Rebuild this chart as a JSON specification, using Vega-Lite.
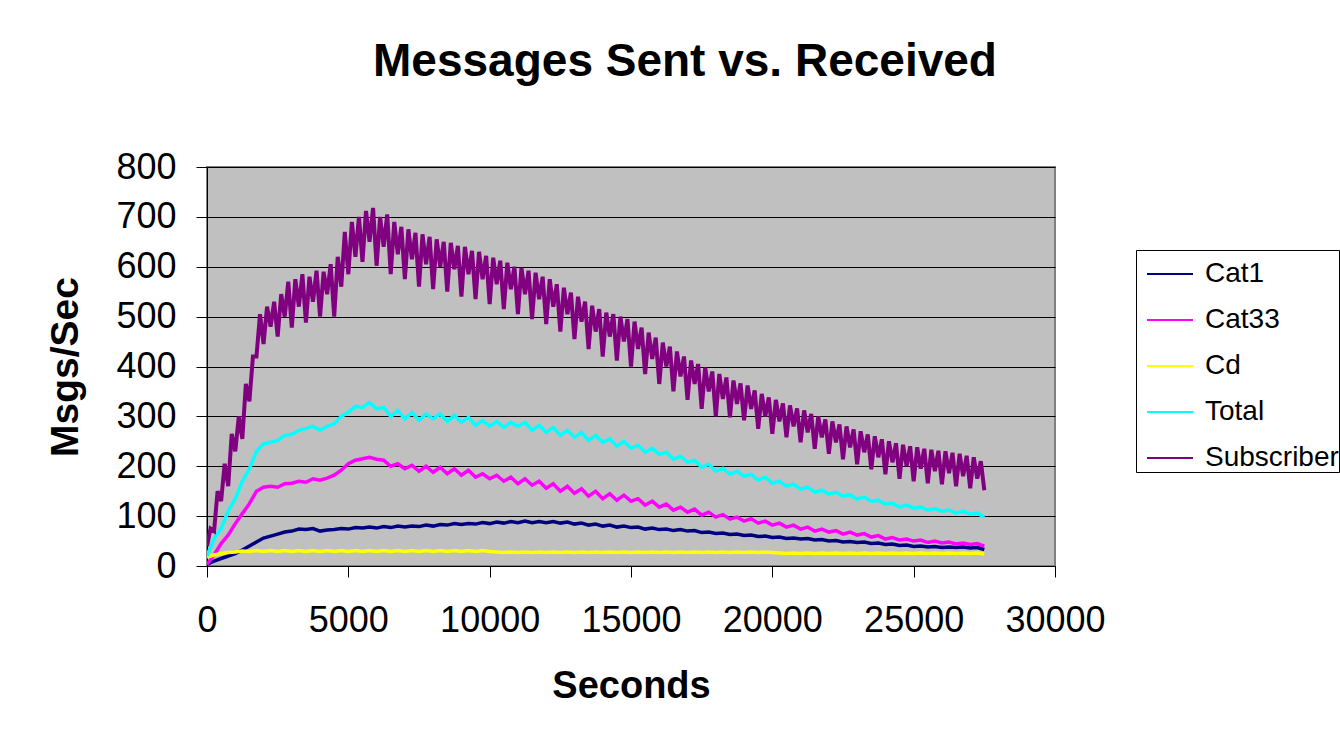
{
  "$schema": "https://vega.github.io/schema/vega-lite/v6.json",
  "width": 848,
  "height": 399,
  "autosize": {"type": "none"},
  "padding": {"left": 207, "top": 167, "right": 285, "bottom": 169},
  "background": "white",
  "title": {"text": "Messages Sent vs. Received", "fontSize": 46, "fontWeight": "bold", "font": "Liberation Sans", "color": "black", "anchor": "middle", "frame": "group", "offset": 63, "dx": 54},
  "datasets": {
    "main": [
      {"t":0,"Cat1":3,"Cat33":3,"Cd":18,"Total":20},
      {"t":250,"Cat1":10,"Cat33":22,"Cd":22,"Total":55},
      {"t":500,"Cat1":15,"Cat33":45,"Cd":25,"Total":75},
      {"t":750,"Cat1":20,"Cat33":62,"Cd":27,"Total":110},
      {"t":1000,"Cat1":25,"Cat33":85,"Cd":28,"Total":135},
      {"t":1250,"Cat1":32,"Cat33":105,"Cd":30,"Total":170},
      {"t":1500,"Cat1":40,"Cat33":125,"Cd":29,"Total":195},
      {"t":1750,"Cat1":48,"Cat33":150,"Cd":31,"Total":230},
      {"t":2000,"Cat1":56,"Cat33":158,"Cd":29,"Total":245},
      {"t":2250,"Cat1":60,"Cat33":160,"Cd":31,"Total":248},
      {"t":2500,"Cat1":64,"Cat33":158,"Cd":29,"Total":252},
      {"t":2750,"Cat1":68,"Cat33":165,"Cd":31,"Total":262},
      {"t":3000,"Cat1":70,"Cat33":166,"Cd":29,"Total":264},
      {"t":3250,"Cat1":74,"Cat33":170,"Cd":31,"Total":272},
      {"t":3500,"Cat1":73,"Cat33":168,"Cd":29,"Total":276},
      {"t":3750,"Cat1":75,"Cat33":175,"Cd":31,"Total":280},
      {"t":4000,"Cat1":70,"Cat33":172,"Cd":29,"Total":272},
      {"t":4250,"Cat1":72,"Cat33":176,"Cd":31,"Total":280},
      {"t":4500,"Cat1":73,"Cat33":182,"Cd":29,"Total":285},
      {"t":4750,"Cat1":75,"Cat33":192,"Cd":31,"Total":300},
      {"t":5000,"Cat1":74,"Cat33":205,"Cd":29,"Total":308},
      {"t":5250,"Cat1":77,"Cat33":212,"Cd":31,"Total":320},
      {"t":5500,"Cat1":76,"Cat33":215,"Cd":29,"Total":318},
      {"t":5750,"Cat1":78,"Cat33":218,"Cd":31,"Total":328},
      {"t":6000,"Cat1":76,"Cat33":214,"Cd":29,"Total":315},
      {"t":6250,"Cat1":79,"Cat33":212,"Cd":31,"Total":318},
      {"t":6500,"Cat1":77,"Cat33":200,"Cd":29,"Total":300},
      {"t":6750,"Cat1":80,"Cat33":205,"Cd":31,"Total":312},
      {"t":7000,"Cat1":78,"Cat33":195,"Cd":29,"Total":295},
      {"t":7250,"Cat1":80,"Cat33":202,"Cd":31,"Total":308},
      {"t":7500,"Cat1":79,"Cat33":190,"Cd":29,"Total":292},
      {"t":7750,"Cat1":82,"Cat33":200,"Cd":31,"Total":305},
      {"t":8000,"Cat1":80,"Cat33":188,"Cd":29,"Total":295},
      {"t":8250,"Cat1":83,"Cat33":198,"Cd":31,"Total":305},
      {"t":8500,"Cat1":82,"Cat33":185,"Cd":29,"Total":290},
      {"t":8750,"Cat1":85,"Cat33":195,"Cd":31,"Total":302},
      {"t":9000,"Cat1":83,"Cat33":182,"Cd":29,"Total":288},
      {"t":9250,"Cat1":85,"Cat33":192,"Cd":31,"Total":298},
      {"t":9500,"Cat1":84,"Cat33":178,"Cd":29,"Total":282},
      {"t":9750,"Cat1":87,"Cat33":185,"Cd":31,"Total":292},
      {"t":10000,"Cat1":85,"Cat33":175,"Cd":29,"Total":280},
      {"t":10250,"Cat1":88,"Cat33":182,"Cd":28,"Total":290},
      {"t":10500,"Cat1":86,"Cat33":170,"Cd":27,"Total":278},
      {"t":10750,"Cat1":89,"Cat33":178,"Cd":28,"Total":288},
      {"t":11000,"Cat1":87,"Cat33":165,"Cd":27,"Total":280},
      {"t":11250,"Cat1":90,"Cat33":175,"Cd":28,"Total":288},
      {"t":11500,"Cat1":87,"Cat33":162,"Cd":27,"Total":272},
      {"t":11750,"Cat1":89,"Cat33":170,"Cd":28,"Total":282},
      {"t":12000,"Cat1":87,"Cat33":156,"Cd":27,"Total":268},
      {"t":12250,"Cat1":89,"Cat33":165,"Cd":28,"Total":278},
      {"t":12500,"Cat1":86,"Cat33":150,"Cd":27,"Total":262},
      {"t":12750,"Cat1":88,"Cat33":160,"Cd":28,"Total":272},
      {"t":13000,"Cat1":84,"Cat33":146,"Cd":27,"Total":258},
      {"t":13250,"Cat1":86,"Cat33":155,"Cd":28,"Total":268},
      {"t":13500,"Cat1":82,"Cat33":140,"Cd":27,"Total":252},
      {"t":13750,"Cat1":84,"Cat33":150,"Cd":28,"Total":262},
      {"t":14000,"Cat1":80,"Cat33":135,"Cd":27,"Total":248},
      {"t":14250,"Cat1":82,"Cat33":145,"Cd":28,"Total":255},
      {"t":14500,"Cat1":78,"Cat33":132,"Cd":27,"Total":240},
      {"t":14750,"Cat1":80,"Cat33":142,"Cd":28,"Total":250},
      {"t":15000,"Cat1":77,"Cat33":130,"Cd":27,"Total":236},
      {"t":15250,"Cat1":78,"Cat33":135,"Cd":28,"Total":242},
      {"t":15500,"Cat1":74,"Cat33":122,"Cd":27,"Total":228},
      {"t":15750,"Cat1":76,"Cat33":130,"Cd":28,"Total":236},
      {"t":16000,"Cat1":73,"Cat33":118,"Cd":27,"Total":224},
      {"t":16250,"Cat1":74,"Cat33":124,"Cd":28,"Total":228},
      {"t":16500,"Cat1":71,"Cat33":112,"Cd":27,"Total":214},
      {"t":16750,"Cat1":73,"Cat33":118,"Cd":28,"Total":220},
      {"t":17000,"Cat1":70,"Cat33":108,"Cd":27,"Total":208},
      {"t":17250,"Cat1":71,"Cat33":114,"Cd":28,"Total":212},
      {"t":17500,"Cat1":67,"Cat33":102,"Cd":27,"Total":198},
      {"t":17750,"Cat1":68,"Cat33":108,"Cd":28,"Total":204},
      {"t":18000,"Cat1":65,"Cat33":98,"Cd":27,"Total":190},
      {"t":18250,"Cat1":66,"Cat33":103,"Cd":28,"Total":196},
      {"t":18500,"Cat1":63,"Cat33":94,"Cd":27,"Total":184},
      {"t":18750,"Cat1":64,"Cat33":98,"Cd":28,"Total":190},
      {"t":19000,"Cat1":61,"Cat33":90,"Cd":27,"Total":180},
      {"t":19250,"Cat1":62,"Cat33":95,"Cd":28,"Total":184},
      {"t":19500,"Cat1":59,"Cat33":86,"Cd":27,"Total":172},
      {"t":19750,"Cat1":60,"Cat33":90,"Cd":28,"Total":178},
      {"t":20000,"Cat1":57,"Cat33":82,"Cd":27,"Total":166},
      {"t":20250,"Cat1":58,"Cat33":86,"Cd":26,"Total":170},
      {"t":20500,"Cat1":55,"Cat33":78,"Cd":25,"Total":160},
      {"t":20750,"Cat1":56,"Cat33":82,"Cd":26,"Total":164},
      {"t":21000,"Cat1":54,"Cat33":74,"Cd":25,"Total":154},
      {"t":21250,"Cat1":55,"Cat33":78,"Cd":26,"Total":158},
      {"t":21500,"Cat1":52,"Cat33":70,"Cd":25,"Total":148},
      {"t":21750,"Cat1":53,"Cat33":74,"Cd":26,"Total":152},
      {"t":22000,"Cat1":50,"Cat33":68,"Cd":25,"Total":144},
      {"t":22250,"Cat1":51,"Cat33":71,"Cd":26,"Total":148},
      {"t":22500,"Cat1":48,"Cat33":64,"Cd":25,"Total":140},
      {"t":22750,"Cat1":49,"Cat33":68,"Cd":26,"Total":143},
      {"t":23000,"Cat1":47,"Cat33":62,"Cd":25,"Total":134},
      {"t":23250,"Cat1":48,"Cat33":65,"Cd":26,"Total":138},
      {"t":23500,"Cat1":45,"Cat33":58,"Cd":25,"Total":130},
      {"t":23750,"Cat1":46,"Cat33":61,"Cd":26,"Total":132},
      {"t":24000,"Cat1":43,"Cat33":54,"Cd":25,"Total":124},
      {"t":24250,"Cat1":44,"Cat33":57,"Cd":26,"Total":126},
      {"t":24500,"Cat1":41,"Cat33":52,"Cd":25,"Total":118},
      {"t":24750,"Cat1":42,"Cat33":54,"Cd":26,"Total":122},
      {"t":25000,"Cat1":39,"Cat33":50,"Cd":25,"Total":116},
      {"t":25250,"Cat1":40,"Cat33":52,"Cd":26,"Total":118},
      {"t":25500,"Cat1":38,"Cat33":47,"Cd":25,"Total":112},
      {"t":25750,"Cat1":39,"Cat33":50,"Cd":26,"Total":115},
      {"t":26000,"Cat1":37,"Cat33":46,"Cd":25,"Total":110},
      {"t":26250,"Cat1":38,"Cat33":48,"Cd":26,"Total":112},
      {"t":26500,"Cat1":37,"Cat33":44,"Cd":25,"Total":106},
      {"t":26750,"Cat1":38,"Cat33":46,"Cd":26,"Total":110},
      {"t":27000,"Cat1":36,"Cat33":43,"Cd":25,"Total":104},
      {"t":27250,"Cat1":37,"Cat33":45,"Cd":26,"Total":106},
      {"t":27500,"Cat1":33,"Cat33":40,"Cd":24,"Total":98}
    ],
    "sub": [
      {"t":0,"value":40},{"t":125,"value":75},{"t":250,"value":70},{"t":375,"value":150},
      {"t":500,"value":130},{"t":625,"value":205},{"t":750,"value":160},{"t":875,"value":265},
      {"t":1000,"value":230},{"t":1125,"value":300},{"t":1250,"value":255},{"t":1375,"value":365},
      {"t":1500,"value":330},{"t":1625,"value":420},{"t":1750,"value":420},{"t":1875,"value":505},
      {"t":2000,"value":445},{"t":2125,"value":520},{"t":2250,"value":480},{"t":2375,"value":530},
      {"t":2500,"value":460},{"t":2625,"value":545},{"t":2750,"value":500},{"t":2875,"value":570},
      {"t":3000,"value":478},{"t":3125,"value":575},{"t":3250,"value":520},{"t":3375,"value":585},
      {"t":3500,"value":488},{"t":3625,"value":580},{"t":3750,"value":530},{"t":3875,"value":592},
      {"t":4000,"value":500},{"t":4125,"value":590},{"t":4250,"value":545},{"t":4375,"value":605},
      {"t":4500,"value":500},{"t":4625,"value":620},{"t":4750,"value":560},{"t":4875,"value":670},
      {"t":5000,"value":585},{"t":5125,"value":690},{"t":5250,"value":620},{"t":5375,"value":700},
      {"t":5500,"value":610},{"t":5625,"value":712},{"t":5750,"value":650},{"t":5875,"value":718},
      {"t":6000,"value":602},{"t":6125,"value":700},{"t":6250,"value":640},{"t":6375,"value":705},
      {"t":6500,"value":585},{"t":6625,"value":690},{"t":6750,"value":625},{"t":6875,"value":680},
      {"t":7000,"value":575},{"t":7125,"value":675},{"t":7250,"value":615},{"t":7375,"value":668},
      {"t":7500,"value":560},{"t":7625,"value":665},{"t":7750,"value":605},{"t":7875,"value":660},
      {"t":8000,"value":555},{"t":8125,"value":655},{"t":8250,"value":600},{"t":8375,"value":650},
      {"t":8500,"value":550},{"t":8625,"value":648},{"t":8750,"value":595},{"t":8875,"value":642},
      {"t":9000,"value":540},{"t":9125,"value":640},{"t":9250,"value":585},{"t":9375,"value":632},
      {"t":9500,"value":535},{"t":9625,"value":630},{"t":9750,"value":575},{"t":9875,"value":622},
      {"t":10000,"value":525},{"t":10125,"value":618},{"t":10250,"value":565},{"t":10375,"value":612},
      {"t":10500,"value":515},{"t":10625,"value":608},{"t":10750,"value":555},{"t":10875,"value":600},
      {"t":11000,"value":505},{"t":11125,"value":598},{"t":11250,"value":545},{"t":11375,"value":592},
      {"t":11500,"value":495},{"t":11625,"value":588},{"t":11750,"value":535},{"t":11875,"value":580},
      {"t":12000,"value":485},{"t":12125,"value":575},{"t":12250,"value":520},{"t":12375,"value":565},
      {"t":12500,"value":470},{"t":12625,"value":558},{"t":12750,"value":505},{"t":12875,"value":548},
      {"t":13000,"value":455},{"t":13125,"value":540},{"t":13250,"value":490},{"t":13375,"value":530},
      {"t":13500,"value":435},{"t":13625,"value":522},{"t":13750,"value":470},{"t":13875,"value":515},
      {"t":14000,"value":420},{"t":14125,"value":508},{"t":14250,"value":460},{"t":14375,"value":505},
      {"t":14500,"value":412},{"t":14625,"value":500},{"t":14750,"value":450},{"t":14875,"value":495},
      {"t":15000,"value":400},{"t":15125,"value":490},{"t":15250,"value":435},{"t":15375,"value":478},
      {"t":15500,"value":385},{"t":15625,"value":468},{"t":15750,"value":415},{"t":15875,"value":458},
      {"t":16000,"value":365},{"t":16125,"value":448},{"t":16250,"value":400},{"t":16375,"value":440},
      {"t":16500,"value":350},{"t":16625,"value":430},{"t":16750,"value":380},{"t":16875,"value":420},
      {"t":17000,"value":333},{"t":17125,"value":412},{"t":17250,"value":365},{"t":17375,"value":405},
      {"t":17500,"value":315},{"t":17625,"value":398},{"t":17750,"value":350},{"t":17875,"value":390},
      {"t":18000,"value":300},{"t":18125,"value":385},{"t":18250,"value":335},{"t":18375,"value":378},
      {"t":18500,"value":298},{"t":18625,"value":372},{"t":18750,"value":325},{"t":18875,"value":366},
      {"t":19000,"value":292},{"t":19125,"value":362},{"t":19250,"value":315},{"t":19375,"value":352},
      {"t":19500,"value":275},{"t":19625,"value":345},{"t":19750,"value":300},{"t":19875,"value":338},
      {"t":20000,"value":265},{"t":20125,"value":333},{"t":20250,"value":290},{"t":20375,"value":326},
      {"t":20500,"value":258},{"t":20625,"value":322},{"t":20750,"value":280},{"t":20875,"value":316},
      {"t":21000,"value":248},{"t":21125,"value":312},{"t":21250,"value":268},{"t":21375,"value":305},
      {"t":21500,"value":235},{"t":21625,"value":300},{"t":21750,"value":258},{"t":21875,"value":294},
      {"t":22000,"value":225},{"t":22125,"value":290},{"t":22250,"value":248},{"t":22375,"value":284},
      {"t":22500,"value":214},{"t":22625,"value":280},{"t":22750,"value":238},{"t":22875,"value":274},
      {"t":23000,"value":204},{"t":23125,"value":270},{"t":23250,"value":228},{"t":23375,"value":264},
      {"t":23500,"value":194},{"t":23625,"value":260},{"t":23750,"value":218},{"t":23875,"value":254},
      {"t":24000,"value":184},{"t":24125,"value":250},{"t":24250,"value":208},{"t":24375,"value":246},
      {"t":24500,"value":175},{"t":24625,"value":243},{"t":24750,"value":200},{"t":24875,"value":240},
      {"t":25000,"value":170},{"t":25125,"value":238},{"t":25250,"value":195},{"t":25375,"value":235},
      {"t":25500,"value":166},{"t":25625,"value":233},{"t":25750,"value":190},{"t":25875,"value":231},
      {"t":26000,"value":164},{"t":26125,"value":230},{"t":26250,"value":186},{"t":26375,"value":227},
      {"t":26500,"value":160},{"t":26625,"value":225},{"t":26750,"value":180},{"t":26875,"value":221},
      {"t":27000,"value":156},{"t":27125,"value":218},{"t":27250,"value":175},{"t":27375,"value":210},
      {"t":27500,"value":152}
    ]
  },
  "encoding": {
    "x": {
      "field": "t", "type": "quantitative",
      "scale": {"domain": [0, 30000], "nice": false},
      "axis": {
        "title": "Seconds", "titleFont": "Liberation Sans", "titleFontSize": 38, "titleFontWeight": "bold", "titleColor": "black",
        "titleX": 424, "titleY": 120, "titleBaseline": "middle", "titleAlign": "center",
        "values": [0, 5000, 10000, 15000, 20000, 25000, 30000], "format": "d",
        "labelFont": "Liberation Sans", "labelFontSize": 36, "labelColor": "black", "labelPadding": 26, "labelFlush": false, "labelOverlap": false,
        "tickSize": 11, "tickColor": "black", "domainColor": "black", "grid": false
      }
    },
    "y": {
      "field": "value", "type": "quantitative",
      "scale": {"domain": [0, 800], "nice": false},
      "axis": {
        "title": "Msgs/Sec", "titleFont": "Liberation Sans", "titleFontSize": 39, "titleFontWeight": "bold", "titleColor": "black",
        "titleX": -142, "titleY": 199.5, "titleBaseline": "middle", "titleAlign": "center", "titleAngle": -90,
        "values": [0, 100, 200, 300, 400, 500, 600, 700, 800], "format": "d",
        "labelFont": "Liberation Sans", "labelFontSize": 36, "labelColor": "black", "labelPadding": 20, "labelFlush": false, "labelOverlap": false,
        "tickSize": 11, "tickColor": "black", "domainColor": "black", "grid": true, "gridColor": "black", "gridWidth": 1
      }
    }
  },
  "layer": [
    {
      "data": {"name": "main"},
      "transform": [{"fold": ["Cat1", "Cat33", "Cd", "Total"], "as": ["series", "value"]}],
      "mark": {"type": "line", "strokeWidth": 3.5, "clip": true},
      "encoding": {
        "color": {
          "field": "series", "type": "nominal",
          "scale": {"domain": ["Cat1", "Cat33", "Cd", "Total", "Subscriber"], "range": ["#000080", "#FF00FF", "#FFFF00", "#00FFFF", "#800080"]},
          "legend": {
            "title": null, "orient": "none", "legendX": 929, "legendY": 83,
            "strokeColor": "black", "fillColor": "white", "padding": 0, "symbolOffset": 10,
            "symbolType": "stroke", "symbolSize": 2116, "symbolStrokeWidth": 2,
            "labelFont": "Liberation Sans", "labelFontSize": 28, "labelColor": "black", "labelOffset": 11, "labelLimit": 0, "rowPadding": 8
          }
        }
      }
    },
    {
      "data": {"name": "sub"},
      "mark": {"type": "line", "strokeWidth": 4, "clip": true},
      "encoding": {
        "color": {"datum": "Subscriber", "type": "nominal"}
      }
    }
  ],
  "config": {"view": {"fill": "#C0C0C0", "stroke": "#808080", "strokeWidth": 2}}
}
